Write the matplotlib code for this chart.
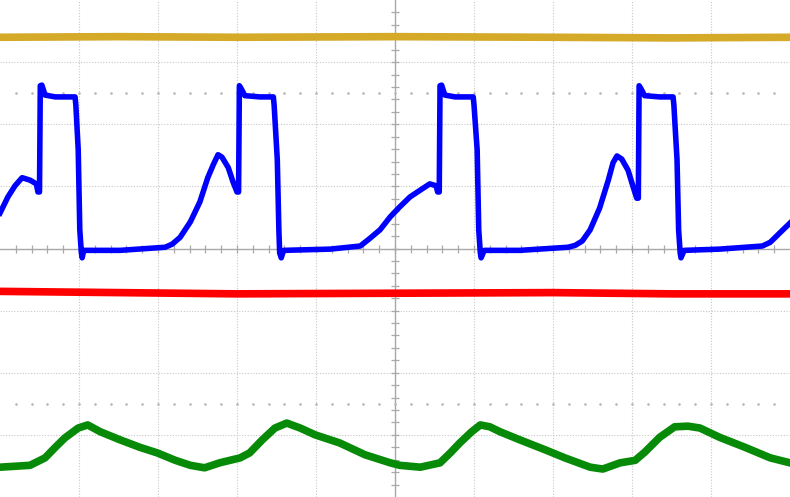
import numpy as np
import matplotlib
matplotlib.use("Agg")
import matplotlib.pyplot as plt

# screen units: 10 x 8 divisions (divisions)
# channel 1 (yellow), flat
ch1_t = [0.00, 1.50, 3.00, 5.00, 7.00, 8.50, 10.00]
ch1_v = [7.40, 7.41, 7.40, 7.41, 7.40, 7.39, 7.40]

# channel 3 (red), flat
ch3_t = [0.00, 1.50, 3.00, 5.00, 7.00, 8.50, 10.00]
ch3_v = [3.31, 3.29, 3.27, 3.28, 3.29, 3.27, 3.27]

# channel 2 (blue), switching waveform
ch2_t = [0.00, 0.10, 0.19, 0.28, 0.38, 0.46, 0.48, 0.50, 0.51, 0.53, 0.57,
         0.70, 0.82, 0.95, 0.96, 0.99, 1.01, 1.03, 1.04, 1.06, 1.52, 2.09,
         2.18, 2.28, 2.41, 2.53, 2.63, 2.70, 2.76, 2.81, 2.89, 2.95, 3.00,
         3.02, 3.03, 3.05, 3.10, 3.29, 3.46, 3.47, 3.51, 3.53, 3.54, 3.56,
         3.59, 4.18, 4.56, 4.66, 4.81, 4.94, 5.06, 5.19, 5.32, 5.44, 5.52,
         5.54, 5.56, 5.57, 5.59, 5.63, 5.76, 5.99, 6.00, 6.04, 6.06, 6.08,
         6.09, 6.13, 6.58, 7.19, 7.28, 7.37, 7.47, 7.59, 7.70, 7.76, 7.81,
         7.87, 7.95, 8.01, 8.06, 8.08, 8.09, 8.11, 8.16, 8.35, 8.52, 8.53,
         8.57, 8.59, 8.61, 8.62, 8.66, 9.11, 9.65, 9.75, 9.87, 10.00]
ch2_v = [4.57, 4.83, 5.01, 5.14, 5.10, 5.04, 4.91, 4.91, 6.62, 6.63, 6.47,
         6.44, 6.44, 6.44, 6.31, 5.59, 4.30, 3.93, 3.85, 3.97, 3.97, 4.02,
         4.07, 4.18, 4.43, 4.75, 5.14, 5.35, 5.51, 5.47, 5.30, 5.07, 4.91,
         4.91, 6.62, 6.58, 6.46, 6.44, 6.44, 6.31, 5.43, 4.30, 3.93, 3.85,
         3.97, 3.99, 4.04, 4.14, 4.30, 4.51, 4.67, 4.83, 4.94, 5.04, 5.01,
         4.91, 4.91, 6.62, 6.63, 6.47, 6.44, 6.44, 6.31, 5.59, 4.30, 3.93,
         3.85, 3.97, 3.97, 4.02, 4.05, 4.12, 4.30, 4.65, 5.10, 5.38, 5.49,
         5.44, 5.26, 5.01, 4.81, 4.81, 6.62, 6.58, 6.46, 6.44, 6.44, 6.31,
         5.43, 4.30, 3.93, 3.85, 3.97, 3.99, 4.04, 4.10, 4.25, 4.41]

# channel 4 (green), triangular-ish current
ch4_t = [0.00, 0.38, 0.57, 0.70, 0.82, 0.99, 1.11, 1.27, 1.52, 1.77, 1.99,
         2.22, 2.41, 2.59, 2.78, 3.04, 3.16, 3.32, 3.48, 3.63, 3.80, 3.99,
         4.30, 4.62, 4.94, 5.06, 5.32, 5.57, 5.70, 5.82, 5.97, 6.08, 6.20,
         6.33, 6.58, 6.90, 7.15, 7.47, 7.63, 7.85, 8.04, 8.16, 8.35, 8.54,
         8.71, 8.86, 9.11, 9.43, 9.75, 10.00]
ch4_v = [0.48, 0.51, 0.63, 0.80, 0.95, 1.11, 1.16, 1.05, 0.92, 0.80, 0.71,
         0.59, 0.51, 0.47, 0.55, 0.63, 0.71, 0.92, 1.11, 1.19, 1.11, 1.00,
         0.87, 0.68, 0.55, 0.51, 0.48, 0.55, 0.71, 0.87, 1.05, 1.16, 1.13,
         1.05, 0.92, 0.76, 0.63, 0.48, 0.45, 0.55, 0.59, 0.72, 0.96, 1.13,
         1.14, 1.11, 0.96, 0.80, 0.63, 0.55]

fig = plt.figure(figsize=(7.9, 4.97), dpi=100)
ax = fig.add_axes([0, 0, 1, 1])
ax.set_xlim(0, 10)
ax.set_ylim(0, 8)
ax.axis("off")

# graticule
for xg in range(1, 10):
    if xg != 5:
        ax.axvline(xg, color="#c8c8c8", lw=0.8, ls=(0, (1, 1.5)), zorder=0)
for yg in range(1, 8):
    if yg != 4:
        ax.axhline(yg, color="#c8c8c8", lw=0.8, ls=(0, (1, 1.5)), zorder=0)
ax.axvline(5, color="#a8a8a8", lw=1.0, zorder=0)
ax.axhline(4, color="#a8a8a8", lw=1.0, zorder=0)

minor_x = np.arange(0.2, 10, 0.2)
minor_y = np.arange(0.2, 8, 0.2)
ax.plot(minor_x, np.full(len(minor_x), 4.0), ls="none", marker="|",
        ms=6, mew=0.9, color="#a8a8a8", zorder=0)
ax.plot(np.full(len(minor_y), 5.0), minor_y, ls="none", marker="_",
        ms=6, mew=0.9, color="#a8a8a8", zorder=0)
for yd in (6.5, 1.5):
    ax.plot(minor_x, np.full(len(minor_x), yd), ls="none", marker=".",
            ms=1.8, color="#b8b8b8", zorder=0)

# traces
ax.plot(ch1_t, ch1_v, color="#d4aa28", lw=5.5, solid_joinstyle="round")
ax.plot(ch3_t, ch3_v, color="#ff0000", lw=5.5, solid_joinstyle="round")
ax.plot(ch4_t, ch4_v, color="#078a07", lw=5.5, solid_joinstyle="round")
ax.plot(ch2_t, ch2_v, color="#0000ff", lw=4.0, solid_joinstyle="round")

fig.savefig("out.png", dpi=100)
